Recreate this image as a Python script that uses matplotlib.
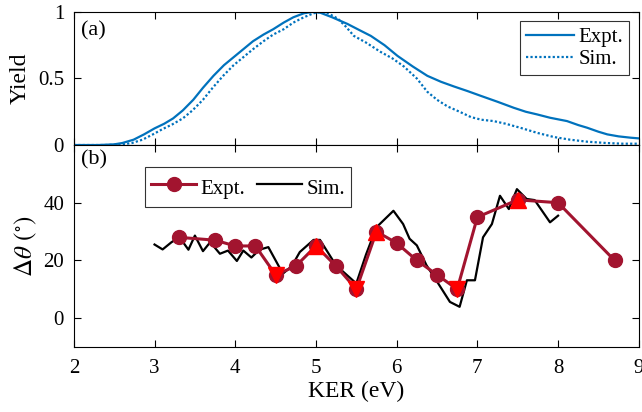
import matplotlib
matplotlib.use('Agg')
import matplotlib.pyplot as plt
import numpy as np

plt.rcParams['font.family'] = ['Liberation Serif', 'DejaVu Serif']
plt.rcParams['mathtext.fontset'] = 'stix'

BLUE = '#0072BD'
DARK_RED = '#A2142F'

# (a) yield curves
ker_expt = [2.0, 2.3, 2.5, 2.6, 2.74, 2.87, 3.0, 3.12, 3.23, 3.35, 3.48, 3.6, 3.73, 3.86, 4.0,
            4.1, 4.22, 4.35, 4.47, 4.6, 4.72, 4.85, 4.95, 5.05, 5.2, 5.39, 5.55, 5.68, 5.85, 6.01,
            6.2, 6.38, 6.55, 6.71, 6.88, 7.04, 7.25, 7.45, 7.6, 7.74, 7.9, 8.11, 8.25, 8.36, 8.5,
            8.61, 8.75, 8.9, 9.0]
yield_expt = [0.0, 0.0, 0.005, 0.015, 0.04, 0.08, 0.125, 0.16, 0.2, 0.26, 0.34, 0.43, 0.52, 0.6, 0.67,
              0.72, 0.78, 0.83, 0.87, 0.92, 0.96, 0.99, 1.0, 0.995, 0.96, 0.91, 0.86, 0.82, 0.75, 0.67,
              0.59, 0.52, 0.475, 0.44, 0.405, 0.37, 0.325, 0.28, 0.25, 0.23, 0.205, 0.18, 0.15, 0.13, 0.1,
              0.08, 0.065, 0.055, 0.05]
ker_sim = [2.0, 2.4, 2.6, 2.72, 2.85, 2.98, 3.1, 3.22, 3.35, 3.47, 3.6, 3.72, 3.85, 3.98, 4.1,
           4.22, 4.35, 4.47, 4.6, 4.72, 4.85, 4.97, 5.05, 5.15, 5.27, 5.37, 5.47, 5.62, 5.8, 5.95,
           6.09, 6.25, 6.38, 6.5, 6.63, 6.78, 6.92, 7.05, 7.2, 7.35, 7.53, 7.75, 7.95, 8.15, 8.36,
           8.6, 8.8, 9.0]
yield_sim = [0.0, 0.0, 0.005, 0.015, 0.04, 0.08, 0.12, 0.155, 0.2, 0.26, 0.34, 0.43, 0.52, 0.6, 0.66,
             0.72, 0.78, 0.83, 0.87, 0.92, 0.96, 0.99, 1.0, 0.99, 0.95, 0.89, 0.82, 0.77, 0.7, 0.65,
             0.59, 0.5, 0.4, 0.34, 0.29, 0.25, 0.21, 0.19, 0.18, 0.16, 0.13, 0.09, 0.06, 0.04, 0.025,
             0.015, 0.01, 0.01]

# (b) delta theta
ker_pts = [3.3, 3.75, 4.0, 4.25, 4.5, 4.75, 5.0, 5.25, 5.5, 5.75, 6.0, 6.25, 6.5, 6.75, 7.0, 7.5, 8.0, 8.7]
dtheta_expt = [28, 27, 25, 25, 15, 18, 25, 18, 10, 30, 26, 20, 15, 10, 35, 41, 40, 20]
ker_up = [5.0, 5.75, 7.5]
dtheta_up = [25, 30, 41]
ker_down = [4.5, 5.5, 6.75]
dtheta_down = [15, 10, 10]

ker_sim_b = [3.0, 3.1, 3.21, 3.31, 3.42, 3.5, 3.6, 3.69, 3.81, 3.91, 4.02, 4.1, 4.2, 4.3, 4.41,
             4.59, 4.7, 4.8, 4.97, 5.05, 5.21, 5.3, 5.5, 5.62, 5.75, 5.96, 6.08, 6.16, 6.25, 6.37,
             6.49, 6.66, 6.78, 6.87, 6.97, 7.07, 7.18, 7.28, 7.39, 7.49, 7.61, 7.71, 7.9, 8.0]
dtheta_sim = [25.5, 23.8, 26.3, 28.0, 23.7, 28.6, 23.2, 26.3, 22.3, 23.4, 19.8, 23.4, 21.0, 23.7, 24.6,
              15.4, 18.0, 22.9, 27.1, 27.1, 20.0, 17.0, 12.0, 22.0, 31.5, 37.2, 32.6, 27.5, 25.2, 18.3,
              13.1, 5.6, 3.9, 13.1, 13.1, 28.0, 32.6, 42.4, 37.8, 44.7, 41.3, 40.9, 33.2, 35.5]

fig = plt.figure(figsize=(6.42, 4.12), dpi=100)
ax1 = fig.add_axes([0.115, 0.648, 0.88, 0.323])
ax2 = fig.add_axes([0.115, 0.158, 0.88, 0.490])

ax1.plot(ker_expt, yield_expt, color=BLUE, lw=1.6, label='Expt.')
ax1.plot(ker_sim, yield_sim, color=BLUE, lw=1.6, ls=(0, (1, 1)), label='Sim.')
ax1.set_xlim(2, 9)
ax1.set_ylim(0, 1)
ax1.set_yticks([0, 0.5, 1])
ax1.set_yticklabels(['0', '0.5', '1'])
ax1.set_xticklabels([])
ax1.set_ylabel('Yield', fontsize=17, labelpad=5)
ax1.text(0.012, 0.93, '(a)', transform=ax1.transAxes, fontsize=16, va='top')
leg1 = ax1.legend(loc='upper right', fontsize=15, frameon=True, fancybox=False,
                  edgecolor='black', handlelength=2.3, handletextpad=0.2,
                  borderpad=0.3, labelspacing=0.1, borderaxespad=0.45)
leg1.get_frame().set_linewidth(0.8)

ax2.plot(ker_sim_b, dtheta_sim, color='black', lw=1.6, label='Sim.', zorder=2)
ax2.plot(ker_pts, dtheta_expt, color=DARK_RED, lw=2.2, marker='o', ms=10, label='Expt.', zorder=3)
ax2.plot(ker_up, dtheta_up, ls='none', marker='^', color='red', ms=11, zorder=4)
ax2.plot(ker_down, dtheta_down, ls='none', marker='v', color='red', ms=11, zorder=4)
ax2.set_xlim(2, 9)
ax2.set_ylim(-10, 60)
ax2.set_yticks([0, 20, 40])
ax2.set_xlabel('KER (eV)', fontsize=17, labelpad=2)
ax2.set_ylabel(r'$\Delta\theta$ $(^{\circ})$', fontsize=18, labelpad=3)
ax2.text(0.012, 0.975, '(b)', transform=ax2.transAxes, fontsize=16, va='top')
h, l = ax2.get_legend_handles_labels()
leg2 = ax2.legend([h[1], h[0]], [l[1], l[0]], loc='upper left', bbox_to_anchor=(0.126, 0.89),
                  ncol=2, fontsize=15, frameon=True, fancybox=False, edgecolor='black',
                  handlelength=2.15, handleheight=1.6, handletextpad=0.2, columnspacing=0.6,
                  borderpad=0.3, borderaxespad=0)
leg2.get_frame().set_linewidth(0.8)

for ax in (ax1, ax2):
    ax.tick_params(direction='in', top=True, right=True, labelsize=15, length=5, width=0.8)
    ax.tick_params(axis='y', pad=7)
    ax.tick_params(axis='x', pad=9)
    for s in ax.spines.values():
        s.set_linewidth(0.8)

fig.savefig('out.png', dpi=100)
